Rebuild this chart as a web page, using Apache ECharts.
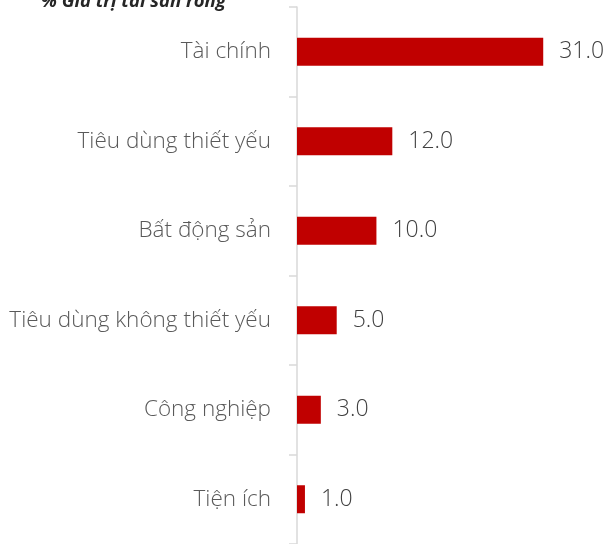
<!DOCTYPE html>
<html><head><meta charset="utf-8">
<script src="https://cdn.jsdelivr.net/npm/echarts@6/dist/echarts.min.js"></script>
<style>html,body{margin:0;padding:0;background:#fff}#c{width:608px;height:544px}</style>
</head><body><div id="c"></div>
<script>
const categories = ["Tài chính","Tiêu dùng thiết yếu","Bất động sản","Tiêu dùng không thiết yếu","Công nghiệp","Tiện ích"];
const values = [31.0, 12.0, 10.0, 5.0, 3.0, 1.0];
const titleText = "% Giá trị tài sản ròng";
const FONT = "'Open Sans', sans-serif";
const chart = echarts.init(document.getElementById('c'));
chart.setOption({
  animation:false,
  title:{text:titleText,left:36,top:-13,textStyle:{fontFamily:FONT,fontSize:18.5,fontStyle:'italic',fontWeight:'bold',color:'#262626'}},
  grid:{left:297,top:7,width:278,height:540},
  xAxis:{type:'value',min:0,max:35,show:false},
  yAxis:{type:'category',data:categories,inverse:true,
    axisLine:{lineStyle:{color:'#D9D9D9',width:1.5}},
    axisTick:{show:true,length:8,lineStyle:{color:'#D9D9D9',width:1.5}},
    axisLabel:{margin:26,padding:[5,0,0,0],fontFamily:FONT,fontSize:22.5,fontWeight:300,color:'#595959'}},
  series:[{type:'bar',data:values,barWidth:28,itemStyle:{color:'#C00000'},
    label:{show:true,position:'right',distance:16,padding:[5,0,0,0],formatter:p=>p.value.toFixed(1),fontFamily:FONT,fontSize:23,fontWeight:300,color:'#404040'}}]
});
</script></body></html>
